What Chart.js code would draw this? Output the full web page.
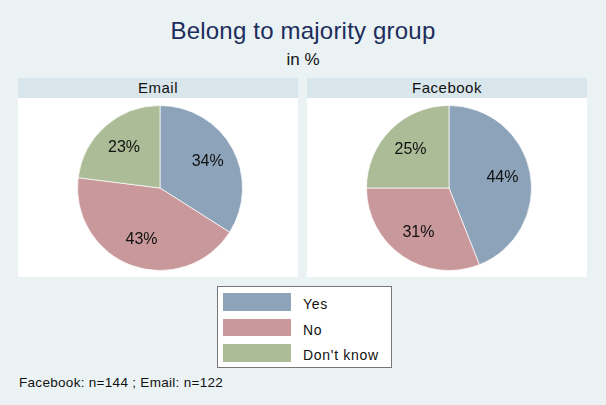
<!DOCTYPE html>
<html>
<head>
<meta charset="utf-8">
<script src="https://cdn.jsdelivr.net/npm/chart.js@4"></script>
<style>
  body { margin: 0; background: #eaf2f3; font-family: "Liberation Sans", Arial, sans-serif; }
  #wrap { position: relative; width: 606px; height: 405px; overflow: hidden; background: #eaf2f3; }
  .abs { position: absolute; }
  #title { left: 0; width: 606px; top: 19px; text-align: center; font-size: 24px; line-height: 24px; letter-spacing: 0.2px; color: #1c2c5c; }
  #sub { left: 0; width: 606px; top: 51px; text-align: center; font-size: 17px; line-height: 17px; color: #111; }
  .strip { background: #d9e6eb; height: 20px; line-height: 20px; text-align: center; font-size: 15px; letter-spacing: 0.5px; color: #111; }
  .plot { background: #fff; }
  #legend { left: 217px; top: 286px; width: 175px; height: 82px; background: #fff; border: 1px solid #777; box-sizing: border-box; }
  .row { position: absolute; left: 5px; height: 18px; }
  .sw { position: absolute; left: 0; top: 0; width: 68px; height: 17.5px; }
  .lt { position: absolute; left: 80px; top: 2px; font-size: 14px; line-height: 18px; letter-spacing: 0.7px; color: #111; white-space: nowrap; }
  #note { left: 19px; top: 376px; font-size: 13.5px; line-height: 13.5px; letter-spacing: 0.3px; color: #111; }
</style>
</head>
<body>
<div id="wrap">
  <div id="title" class="abs">Belong to majority group</div>
  <div id="sub" class="abs">in %</div>

  <div class="abs strip" style="left:18px; top:78px; width:280px;">Email</div>
  <div class="abs plot" style="left:18px; top:98px; width:280px; height:179px;"></div>
  <div class="abs strip" style="left:307px; top:78px; width:280px;">Facebook</div>
  <div class="abs plot" style="left:307px; top:98px; width:280px; height:179px;"></div>

  <div class="abs" style="left:76px; top:104px; width:168px; height:168px;"><canvas id="pieEmail"></canvas></div>
  <div class="abs" style="left:365px; top:104px; width:168px; height:168px;"><canvas id="pieFb"></canvas></div>

  <div id="legend" class="abs"></div>
  <div id="note" class="abs">Facebook: n=144 ; Email: n=122</div>
</div>

<script>
  // data
  const categories = ['Yes', 'No', "Don't know"];
  const emailValues = [34, 43, 23];
  const facebookValues = [44, 31, 25];
  const colors = ['#8ca3ba', '#c9989b', '#abbc96'];

  // etiquetas dentro das fatias
  const sliceLabels = {
    id: 'sliceLabels',
    afterDatasetsDraw(chart) {
      const ctx = chart.ctx;
      const meta = chart.getDatasetMeta(0);
      const vals = chart.data.datasets[0].data;
      ctx.save();
      ctx.font = '16px "Liberation Sans", Arial, sans-serif';
      ctx.fillStyle = '#111';
      ctx.textAlign = 'center';
      ctx.textBaseline = 'middle';
      meta.data.forEach((arc, i) => {
        const mid = (arc.startAngle + arc.endAngle) / 2;
        const r = arc.outerRadius * 0.66;
        ctx.fillText(vals[i] + '%', arc.x + Math.cos(mid) * r, arc.y + Math.sin(mid) * r);
      });
      ctx.restore();
    }
  };

  function makePie(id, values) {
    return new Chart(document.getElementById(id), {
      type: 'pie',
      data: {
        labels: categories,
        datasets: [{ data: values, backgroundColor: colors, borderColor: 'rgba(255,255,255,0.7)', borderWidth: 1 }]
      },
      options: {
        responsive: true,
        maintainAspectRatio: false,
        animation: false,
        layout: { padding: 1 },
        plugins: { legend: { display: false }, tooltip: { enabled: false } }
      },
      plugins: [sliceLabels]
    });
  }

  makePie('pieEmail', emailValues);
  makePie('pieFb', facebookValues);

  // legenda
  const leg = document.getElementById('legend');
  categories.forEach((c, i) => {
    const row = document.createElement('div');
    row.className = 'row';
    row.style.top = (6 + i * 25.5) + 'px';
    row.innerHTML = `<div class="sw" style="background:${colors[i]}"></div><div class="lt">${c}</div>`;
    leg.appendChild(row);
  });
</script>
</body>
</html>
